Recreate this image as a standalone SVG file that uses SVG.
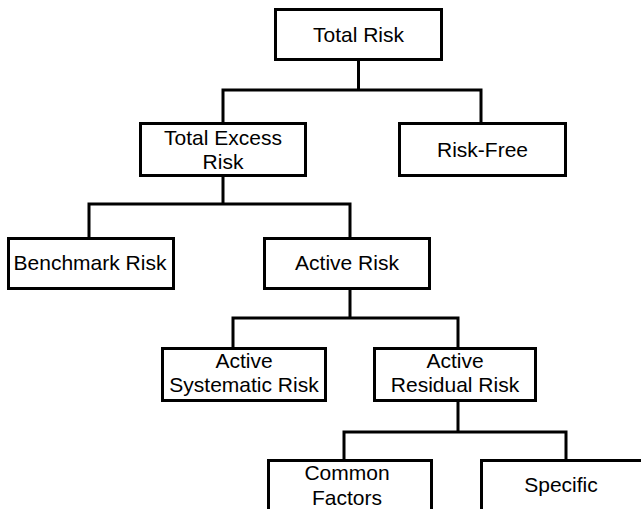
<svg xmlns="http://www.w3.org/2000/svg" width="641" height="509" viewBox="0 0 641 509">
<style>
.box{fill:#fff;stroke:#000;stroke-width:3}
.lbl{font-family:"Liberation Sans",Arial,sans-serif;font-size:21px;fill:#000;text-anchor:middle}
.conn{fill:none;stroke:#000;stroke-width:3;stroke-linecap:square}
</style>
<rect width="641" height="509" fill="#fff"/>
<g id="connectors">
<path class="conn" d="M358.5 61 V90 M223 90 H481 M223 90 V122 M481 90 V122"/>
<path class="conn" d="M223 177 V204 M89 204 H350 M89 204 V237 M350 204 V237"/>
<path class="conn" d="M350 290 V318 M233 318 H458 M233 318 V347 M458 318 V347"/>
<path class="conn" d="M458 402 V432 M344 432 H566 M344 432 V459 M566 432 V459"/>
</g>
<g id="total-risk">
<rect class="box" x="275.5" y="9.5" width="166" height="50"/>
<text class="lbl" x="358.5" y="42">Total Risk</text>
</g>
<g id="total-excess-risk">
<rect class="box" x="140.5" y="123.5" width="165" height="52"/>
<text class="lbl" x="223" y="145">Total Excess</text>
<text class="lbl" x="223" y="169">Risk</text>
</g>
<g id="risk-free">
<rect class="box" x="399.5" y="123.5" width="166" height="52"/>
<text class="lbl" x="482.5" y="157">Risk-Free</text>
</g>
<g id="benchmark-risk">
<rect class="box" x="8.5" y="238.5" width="165" height="50"/>
<text class="lbl" x="90" y="270">Benchmark Risk</text>
</g>
<g id="active-risk">
<rect class="box" x="264.5" y="238.5" width="165" height="50"/>
<text class="lbl" x="347" y="270">Active Risk</text>
</g>
<g id="active-systematic-risk">
<rect class="box" x="162.5" y="348.5" width="163" height="52"/>
<text class="lbl" x="244" y="368">Active</text>
<text class="lbl" x="244" y="392">Systematic Risk</text>
</g>
<g id="active-residual-risk">
<rect class="box" x="374.5" y="348.5" width="161" height="52"/>
<text class="lbl" x="455" y="368">Active</text>
<text class="lbl" x="455" y="392">Residual Risk</text>
</g>
<g id="common-factors">
<rect class="box" x="268.5" y="460.5" width="163" height="60"/>
<text class="lbl" x="347" y="480">Common</text>
<text class="lbl" x="347" y="505">Factors</text>
</g>
<g id="specific">
<rect class="box" x="481.5" y="460.5" width="170" height="60"/>
<text class="lbl" x="561" y="492">Specific</text>
</g>
</svg>
